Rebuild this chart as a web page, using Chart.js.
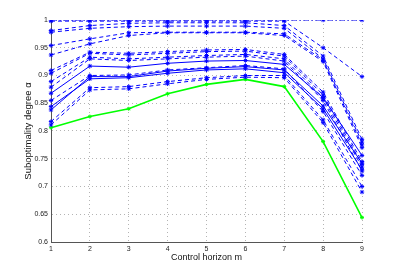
<!DOCTYPE html>
<html>
<head>
<meta charset="utf-8">
<script src="https://cdn.jsdelivr.net/npm/chart.js@4/dist/chart.umd.min.js"></script>
<style>
  html, body { margin: 0; padding: 0; background: #fff; }
  #wrap { width: 399px; height: 273px; }
</style>
</head>
<body>
<div id="wrap"><canvas id="c" width="399" height="273"></canvas></div>
<script>
// control horizon m
var horizons = ['1', '2', '3', '4', '5', '6', '7', '8', '9'];
var yTicks = [0.6, 0.65, 0.7, 0.75, 0.8, 0.85, 0.9, 0.95, 1];

// blue runs (top to bottom at m=1)
var runA = [1.0, 1.0, 1.0, 1.0, 1.0, 1.0, 1.0, 1.0, 1.0];
var runB = [0.998, 0.998, 0.998, 0.998, 0.998, 0.998, 0.998, 0.95, 0.898];
var runC = [0.981, 0.990, 0.994, 0.995, 0.995, 0.995, 0.990, 0.935, 0.785];
var runD = [0.978, 0.985, 0.988, 0.989, 0.989, 0.989, 0.985, 0.930, 0.780];
var runE = [0.954, 0.966, 0.977, 0.978, 0.978, 0.978, 0.975, 0.928, 0.775];
var runF = [0.937, 0.957, 0.972, 0.977, 0.977, 0.977, 0.972, 0.925, 0.770];
var runG = [0.909, 0.942, 0.940, 0.943, 0.946, 0.947, 0.938, 0.870, 0.745];
var runH = [0.904, 0.940, 0.937, 0.940, 0.943, 0.944, 0.935, 0.865, 0.740];
var runI = [0.889, 0.933, 0.930, 0.933, 0.936, 0.938, 0.930, 0.860, 0.735];
var runJ = [0.879, 0.930, 0.927, 0.930, 0.933, 0.935, 0.926, 0.855, 0.728];
var runK = [0.868, 0.917, 0.915, 0.922, 0.926, 0.927, 0.920, 0.860, 0.756];
var runL = [0.838, 0.898, 0.898, 0.908, 0.913, 0.916, 0.910, 0.845, 0.742];
var runM = [0.844, 0.894, 0.896, 0.904, 0.910, 0.912, 0.905, 0.840, 0.730];
var runN = [0.855, 0.900, 0.901, 0.910, 0.914, 0.918, 0.912, 0.835, 0.720];
var runO = [0.817, 0.878, 0.880, 0.889, 0.896, 0.900, 0.900, 0.820, 0.700];
var runP = [0.811, 0.874, 0.876, 0.885, 0.893, 0.897, 0.896, 0.815, 0.690];
// green: the lower bound
var bound = [0.806, 0.826, 0.840, 0.867, 0.884, 0.893, 0.880, 0.781, 0.644];

var blueRuns = [
  { data: runA, dash: [6, 2, 2, 2] },
  { data: runB, dash: [4, 3] },
  { data: runC, dash: [4, 3] },
  { data: runD, dash: [4, 3] },
  { data: runE, dash: [4, 3] },
  { data: runF, dash: [4, 3] },
  { data: runG, dash: [4, 3] },
  { data: runH, dash: [4, 3] },
  { data: runI, dash: [4, 3] },
  { data: runJ, dash: [4, 3] },
  { data: runK, dash: [] },
  { data: runL, dash: [] },
  { data: runM, dash: [] },
  { data: runN, dash: [4, 3] },
  { data: runO, dash: [4, 3] },
  { data: runP, dash: [4, 3] }
];

var datasets = blueRuns.map(function (r) {
  return {
    data: r.data,
    borderColor: '#0000ff',
    backgroundColor: '#0000ff',
    borderWidth: 1,
    borderDash: r.dash,
    pointStyle: 'star',
    pointRadius: 2.2,
    pointBorderWidth: 1,
    pointBorderColor: '#0000ff',
    tension: 0
  };
});
datasets.push({
  data: bound,
  borderColor: '#00ff00',
  backgroundColor: '#00ff00',
  borderWidth: 1.6,
  pointStyle: 'star',
  pointRadius: 2,
  pointBorderWidth: 1,
  pointBorderColor: '#00ff00',
  tension: 0
});

var ctx = document.getElementById('c');
var myChart = new Chart(ctx, {
  type: 'line',
  data: { labels: horizons, datasets: datasets },
  options: {
    responsive: false,
    animation: false,
    layout: { padding: { top: 20, right: 37, left: 23, bottom: 10 } },
    plugins: { legend: { display: false }, tooltip: { enabled: false } },
    scales: {
      x: {
        type: 'category',
        offset: false,
        afterFit: function (s) { s.height = 21; },
        grid: { color: '#b4b4b4', drawTicks: false, lineWidth: 1 },
        border: { display: true, color: '#555', width: 1, dash: [1, 3] },
        ticks: { color: '#222', font: { family: 'Liberation Sans', size: 7 }, padding: 3, maxRotation: 0 },
        title: {
          display: true, text: 'Control horizon m', color: '#111',
          font: { family: 'Liberation Sans', size: 9 }, padding: { top: 0, bottom: 0 }
        }
      },
      y: {
        type: 'linear',
        min: 0.6, max: 1,
        afterFit: function (s) { s.width = 28; },
        afterBuildTicks: function (s) { s.ticks = yTicks.map(function (v) { return { value: v }; }); },
        grid: { color: '#b4b4b4', drawTicks: false, lineWidth: 1 },
        border: { display: true, color: '#555', width: 1, dash: [1, 3] },
        ticks: {
          color: '#222', font: { family: 'Liberation Sans', size: 7 }, padding: 3,
          callback: function (v) { return String(Math.round(v * 100) / 100); }
        },
        title: {
          display: true, text: 'Suboptimality degree \u03b1', color: '#111',
          font: { family: 'Liberation Sans', size: 9.5 }, padding: { top: 0, bottom: 0 }
        }
      }
    }
  }
});
</script>
</body>
</html>
